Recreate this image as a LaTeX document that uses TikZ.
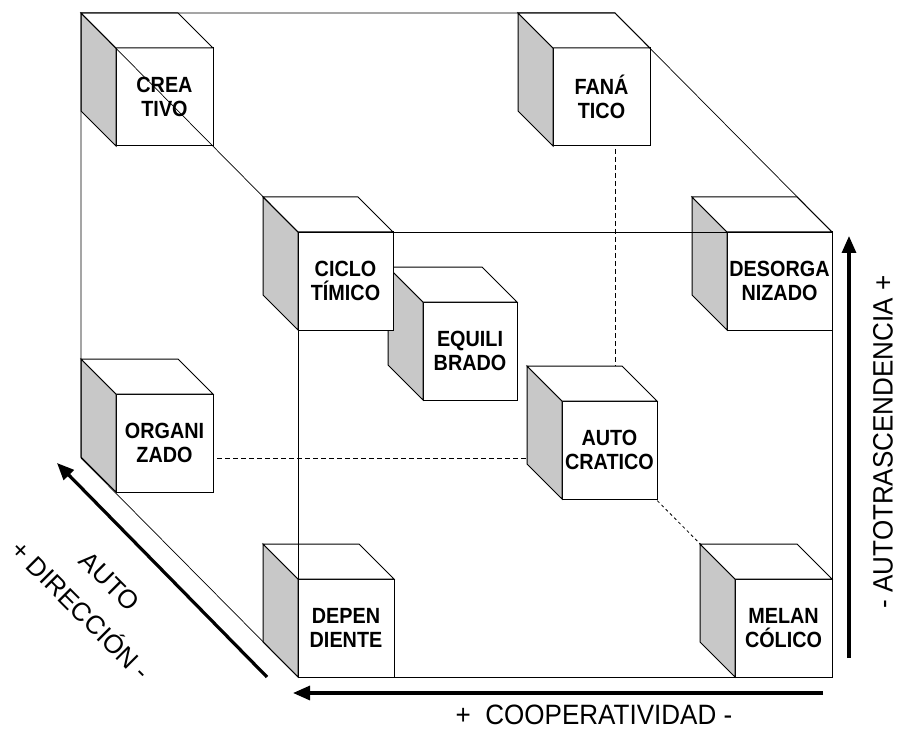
\documentclass[tikz,border=0pt]{standalone}
\usepackage{fontspec}
\setmainfont{Liberation Sans}
\newfontfamily\cubefont[FakeStretch=0.9]{Liberation Sans Bold}
\newfontfamily\axisfont[FakeStretch=0.93]{Liberation Sans}
\usetikzlibrary{arrows.meta, calc}
\definecolor{sidegray}{RGB}{200,200,200}
\tikzstyle{face} = [draw=black, line width=1pt, fill=white, minimum height=98pt, inner sep=0pt, outer sep=0pt, align=center, font=\cubefont\fontsize{22}{24}\selectfont]
\tikzstyle{side} = [draw=black, line width=1pt, fill=sidegray]
\tikzstyle{lid} = [draw=black, line width=1pt, fill=white]
\tikzstyle{wire} = [line width=0.7pt]
\tikzstyle{hidden} = [line width=0.8pt, dash pattern=on 5pt off 3pt]
\tikzstyle{dirarrow} = [line width=3.2pt, -{Triangle[length=17pt,width=14pt]}]
\tikzstyle{axislabel} = [font=\axisfont\fontsize{28}{30}\selectfont]

\begin{document}
\begin{tikzpicture}[x=1pt, y=-1pt]
\useasboundingbox (0,0) rectangle (897,730);

% Big cube corners
\coordinate (b1) at (81,13);
\coordinate (b2) at (615,13);
\coordinate (b3) at (615,458);
\coordinate (b4) at (81,458);
\coordinate (f1) at (298,232);
\coordinate (f2) at (832,232);
\coordinate (f3) at (832,677);
\coordinate (f4) at (298,677);

% Hidden edges
\draw[hidden] (b2) -- (b3);
\draw[hidden] (b4) -- (b3);
\draw[hidden, dash pattern=on 3pt off 3pt] (b3) -- (f3);

% Small cubes
\foreach \nm/\x/\y/\w/\lbl in {
    crea/116/48/97/{CREA\\TIVO},
    fana/553/48/97/{FANÁ\\TICO},
    orga/116/394/97/{ORGANI\\ZADO},
    equi/423/302/94/{EQUILI\\BRADO},
    cicl/298/232/95/{CICLO\\TÍMICO},
    deso/727/232/105/{DESORGA\\NIZADO},
    auto/562/401/95/{AUTO\\CRATICO},
    depe/298/579/96/{DEPEN\\DIENTE},
    mela/735/579/97/{MELAN\\CÓLICO}} {
    \node[face, minimum width=\w pt, anchor=north west] (\nm) at (\x,\y) {\lbl};
    \draw[side] (\nm.north west) -- ++(-35,-35) -- ($(\nm.south west)+(-35,-35)$) -- (\nm.south west) -- cycle;
    \draw[lid] (\nm.north west) -- ++(-35,-35) -- ($(\nm.north east)+(-35,-35)$) -- (\nm.north east) -- cycle;
}

% Visible edges
\draw[wire] (b4) -- (b1) -- (b2) -- (f2);
\draw[wire] (b1) -- (f1);
\draw[wire] (b4) -- (f4);
\draw[wire] (f1) -- (f2) -- (f3) -- (f4) -- cycle;

% Axes
\coordinate (vtail) at (849,658);
\coordinate (vhead) at (849,236);
\coordinate (htail) at (823,693);
\coordinate (hhead) at (293,693);
\coordinate (dtail) at (267,677);
\coordinate (dhead) at (57,463);
\draw[dirarrow] (vtail) -- (vhead);
\draw[dirarrow] (htail) -- (hhead);
\draw[dirarrow] (dtail) -- (dhead);

\node[axislabel, rotate=90] (trasc) at (883,442) {- AUTOTRASCENDENCIA +};
\node[axislabel] (coop) at (594,715) {+~~COOPERATIVIDAD -};
\node[font=\fontsize{26}{41}\selectfont, align=center, rotate=-45] (direc) at (95,596) {AUTO\\+ DIRECCIÓN -};
\end{tikzpicture}
\end{document}
